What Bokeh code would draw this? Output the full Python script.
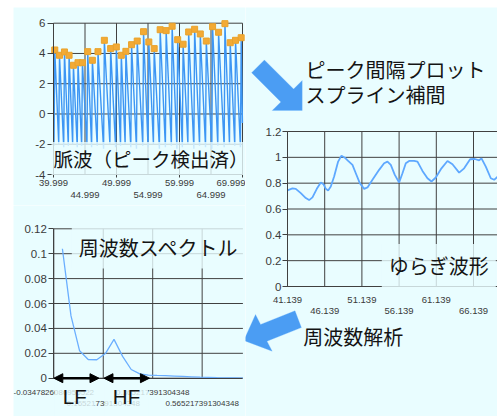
from bokeh.plotting import figure
from bokeh.models import (FixedTicker, LinearAxis, Label, Arrow, NormalHead,
                          PolyAnnotation, Range1d, Spacer)
from bokeh.layouts import row, column
from bokeh.embed import file_html
from bokeh.resources import INLINE

BG = "#e9fdff"
GRID = "#404040"
TICK_COLOR = "#3a3a3a"
NUM_FONT = "Liberation Sans"
JP_FONT = "Noto Sans CJK JP"

# ---------------- chart 1 : pulse wave with detected peaks ----------------
peak_times = [40.20, 40.95, 41.74, 42.47, 43.16, 43.89, 44.59, 45.43, 46.17, 47.06,
              48.07, 49.07, 49.97, 50.76, 51.49, 52.39, 53.29, 54.29, 55.13, 55.98,
              56.93, 57.88, 58.83, 59.71, 60.57, 61.45, 62.40, 63.30, 64.25, 65.25,
              66.20, 67.21, 68.05, 68.89, 69.79]
peak_values = [4.23, 3.88, 4.10, 3.88, 3.22, 3.39, 3.39, 4.12, 3.55, 4.12,
               4.87, 4.32, 4.43, 3.88, 4.14, 4.58, 4.82, 5.44, 4.76, 4.32,
               5.57, 5.51, 5.80, 4.91, 4.61, 5.42, 5.60, 5.29, 4.82, 5.77,
               5.40, 5.97, 4.71, 4.87, 5.04]
trough_times = [40.08, 40.83, 41.62, 42.35, 43.04, 43.77, 44.47, 45.31, 46.05, 46.94,
                47.95, 48.95, 49.85, 50.64, 51.37, 52.27, 53.17, 54.17, 55.01, 55.86,
                56.81, 57.76, 58.71, 59.59, 60.45, 61.33, 62.28, 63.18, 64.13, 65.13,
                66.08, 67.09, 67.93, 68.77, 69.67, 69.99]
trough_values = [-2.1, -2.0, -2.2, -2.1, -2.0, -2.2, -2.1, -2.0, -2.2, -2.1,
                 -2.3, -2.0, -2.2, -2.1, -2.0, -2.2, -2.3, -2.1, -2.2, -2.0,
                 -2.3, -2.2, -2.1, -2.3, -2.2, -2.0, -2.3, -2.1, -2.2, -2.3,
                 -2.1, -2.2, -2.0, -2.1, -2.2, -0.6]
pulse_x_row1 = [39.999, 49.999, 59.999, 69.999]
pulse_x_row2 = [44.999, 54.999, 64.999]
pulse_y_ticks = [-4, -2, 0, 2, 4, 6]
pulse_y_labels = ["-4", "-2", "0", "2", "4", "6"]

# ---------------- chart 2 : interpolated peak-interval series ----------------
rri_times = [41.139, 41.807, 42.255, 42.927, 43.599, 44.046, 44.495, 45.077, 45.615, 45.974,
             46.287, 46.600, 46.959, 47.407, 47.944, 48.393, 48.841, 49.288, 49.871, 50.319,
             50.857, 51.439, 51.888, 52.560, 53.455, 54.127, 54.576, 55.023, 55.561, 56.143,
             56.592, 57.040, 57.487, 58.159, 58.608, 59.280, 59.952, 60.490, 61.072, 61.834,
             62.640, 63.312, 64.208, 64.880, 65.686, 66.314, 66.896, 67.210, 67.792, 68.464,
             68.912, 69.405]
rri_values = [0.744, 0.759, 0.756, 0.723, 0.685, 0.669, 0.690, 0.756, 0.805, 0.792,
              0.756, 0.744, 0.774, 0.851, 0.967, 1.013, 0.997, 0.972, 0.941, 0.877,
              0.800, 0.756, 0.767, 0.826, 0.903, 0.954, 0.967, 0.941, 0.864, 0.805,
              0.877, 0.954, 0.972, 0.972, 0.967, 0.895, 0.838, 0.813, 0.844, 0.915,
              0.972, 0.946, 0.882, 0.915, 0.985, 0.987, 0.977, 0.992, 0.928, 0.838,
              0.826, 0.851]
rri_x_row1 = [41.139, 51.139, 61.139, 71.139]
rri_x_row2 = [46.139, 56.139, 66.139]
rri_y_ticks = [0, 0.2, 0.4, 0.6, 0.8, 1.0, 1.2]
rri_y_labels = ["0", "0.2", "0.4", "0.6", "0.8", "1", "1.2"]

# ---------------- chart 3 : frequency spectrum ----------------
freq = [0.0, 0.0348, 0.0696, 0.1043, 0.1391, 0.1739, 0.2087, 0.2435, 0.2783, 0.3130,
        0.3478, 0.3826, 0.4174, 0.4522, 0.4870, 0.5217, 0.5565, 0.5913, 0.6261, 0.6609,
        0.6957, 0.7304]
power = [0.104, 0.050, 0.022, 0.0150, 0.0148, 0.0198, 0.0312, 0.0175, 0.0070, 0.0035,
         0.0025, 0.0022, 0.0020, 0.0017, 0.0014, 0.0011, 0.0008, 0.0006, 0.0004, 0.0003,
         0.0002, 0.0001]
spec_x_row1 = [-0.0347826086956522, 0.365217391304348]
spec_x_row2 = [0.165217391304348, 0.565217391304348]
spec_x_labels = ["-0.0347826086956522", "0.165217391304348",
                 "0.365217391304348", "0.565217391304348"]
spec_x_visible_end = 0.73
spec_y_ticks = [0, 0.02, 0.04, 0.06, 0.08, 0.1, 0.12]
spec_y_labels = ["0", "0.02", "0.04", "0.06", "0.08", "0.1", "0.12"]
lf_band = [-0.0347826086956522, 0.148]
hf_band = [0.168, 0.352]


def panel(w, h, box, xr, yr):
    """Figure whose frame fills the whole canvas; the chart's data box sits at `box`
    (left, right, top, bottom in pixels from the figure's top-left corner)."""
    l, r, t, b = box
    sx = (r - l) / (xr[1] - xr[0])
    sy = (b - t) / (yr[1] - yr[0])
    p = figure(width=w, height=h,
               x_range=Range1d(xr[0] - l / sx, xr[1] + (w - r) / sx),
               y_range=Range1d(yr[0] - (h - b) / sy, yr[1] + t / sy),
               min_border=0, x_axis_location=None, y_axis_location=None,
               output_backend="svg", toolbar_location=None)
    p.background_fill_color = BG
    p.border_fill_color = BG
    p.outline_line_color = None
    p.grid.visible = False
    return p


def axis(p, side, ticks, labels, loc, bounds, font_size, tick_out, standoff, line=True):
    ax = LinearAxis(ticker=FixedTicker(ticks=ticks),
                    major_label_overrides=dict(zip(ticks, labels)),
                    fixed_location=loc, bounds=bounds)
    ax.major_label_text_font = NUM_FONT
    ax.major_label_text_font_size = font_size
    ax.major_label_text_color = TICK_COLOR
    ax.major_tick_in = 0
    ax.major_tick_out = tick_out
    ax.major_tick_line_color = GRID if tick_out else None
    ax.minor_tick_line_color = None
    ax.major_label_standoff = standoff
    ax.axis_line_color = GRID if line else None
    p.add_layout(ax, side)
    return ax


def grid(p, xticks, yticks, xlim, ylim):
    p.segment(x0=xticks, y0=[ylim[0]] * len(xticks), x1=xticks, y1=[ylim[1]] * len(xticks),
              line_color=GRID, line_width=1)
    p.segment(x0=[xlim[0]] * len(yticks), y0=yticks, x1=[xlim[1]] * len(yticks), y1=yticks,
              line_color=GRID, line_width=1)


def label(p, text, x, y, size="20px", font=JP_FONT, align="left", bg=False, pad=0):
    kw = {}
    if bg:
        kw = dict(background_fill_color=BG, background_fill_alpha=0.8, padding=pad)
    p.add_layout(Label(x=x, y=y, x_units="screen", y_units="screen", text=text,
                       text_font=font, text_font_size=size, text_color="#141414",
                       text_align=align, text_baseline="middle", **kw))


# ---------- figure 1 : pulse wave ----------
p1 = panel(232, 198, (40, 229, 15.7, 167), (39.999, 69.999), (-4, 6))
grid(p1, sorted(pulse_x_row1 + pulse_x_row2), pulse_y_ticks, (39.999, 69.999), (-4, 6))
wave_x, wave_y = [], []
for i in range(len(peak_times)):
    wave_x += [trough_times[i], peak_times[i]]
    wave_y += [trough_values[i], peak_values[i]]
wave_x.append(trough_times[-1])
wave_y.append(trough_values[-1])
p1.line(wave_x, wave_y, line_color="#3d96f4", line_width=1.4)
p1.scatter(peak_times, peak_values, marker="square", size=6,
           fill_color="#f2aa35", line_color="#eaa32c")
axis(p1, "left", pulse_y_ticks, pulse_y_labels, 39.999, (-4, 6), "11.5px", 6, 2)
axis(p1, "below", pulse_x_row1, [f"{t:.3f}" for t in pulse_x_row1], -4, (39.999, 69.999),
     "9.5px", 3, 2)
axis(p1, "below", pulse_x_row2, [f"{t:.3f}" for t in pulse_x_row2], -4, (39.999, 69.999),
     "9.5px", 0, 17, line=False)
label(p1, "脈波（ピーク検出済）", 38, 47, size="19.5px", bg=True, pad=2)

# ---------- figure 3 : spectrum ----------
p3 = panel(232, 211, (40.3, 238.1, 23.3, 172.7), (-0.0347826086956522, 0.765217391304348),
           (0, 0.12))
all_spec = sorted(spec_x_row1 + spec_x_row2)
lab_map = dict(zip(all_spec, spec_x_labels))
grid(p3, all_spec, spec_y_ticks, (all_spec[0], spec_x_visible_end), (0, 0.12))
p3.line(freq, power, line_color="#6aaeff", line_width=1.3)
axis(p3, "left", spec_y_ticks, spec_y_labels, all_spec[0], (0, 0.12), "11.5px", 5, 2)
axis(p3, "below", spec_x_row1, [lab_map[t] for t in spec_x_row1], 0,
     (all_spec[0], spec_x_visible_end), "8px", 0, 12)
axis(p3, "below", spec_x_row2, [lab_map[t] for t in spec_x_row2], 0,
     (all_spec[0], spec_x_visible_end), "8px", 0, 23, line=False)
label(p3, "周波数スペクトル", 58.3, 169.5, bg=True, pad=7)
label(p3, "LF", 61.2, 20, size="20.5px", font=NUM_FONT, align="center", bg=True, pad=8)
label(p3, "HF", 113, 20, size="20.5px", font=NUM_FONT, align="center", bg=True, pad=8)
for band in (lf_band, hf_band):
    p3.add_layout(Arrow(x_start=band[0], y_start=0, x_end=band[1], y_end=0,
                        line_color="#000000", line_width=2.5,
                        start=NormalHead(size=9, fill_color="#000000", line_color="#000000"),
                        end=NormalHead(size=9, fill_color="#000000", line_color="#000000")))

# ---------- figure 2 : interval series ----------
p2 = panel(252, 409, (42, 265.2, 124, 279), (41.139, 71.139), (0, 1.2))
grid(p2, sorted(rri_x_row1 + rri_x_row2), rri_y_ticks, (41.139, 71.139), (0, 1.2))
p2.line(rri_times, rri_values, line_color="#5ea8ff", line_width=1.8)
axis(p2, "left", rri_y_ticks, rri_y_labels, 41.139, (0, 1.2), "11.5px", 5, 1)
axis(p2, "below", rri_x_row1, [f"{t:.3f}" for t in rri_x_row1], 0, (41.139, 71.139),
     "9.5px", 0, 10)
axis(p2, "below", rri_x_row2, [f"{t:.3f}" for t in rri_x_row2], 0, (41.139, 71.139),
     "9.5px", 0, 21, line=False)
label(p2, "ピーク間隔プロット", 60, 347)
label(p2, "スプライン補間", 60, 322)
label(p2, "ゆらぎ波形", 136.3, 151, bg=True, pad=7)
label(p2, "周波数解析", 57.7, 80)

ARROW_FILL = "#4b9df3"
p2.add_layout(PolyAnnotation(
    xs=[18.9, 48.1, 56.7, 56.7, 26.7, 35.3, 6.1],
    ys=[356.6, 327.4, 336, 306, 306, 314.6, 343.8],
    xs_units="screen", ys_units="screen",
    fill_color=ARROW_FILL, fill_alpha=1, line_color="#75b8ff", line_width=1))
p2.add_layout(PolyAnnotation(
    xs=[-1.7, 10, 15.1, 49.5, 55.9, 21.5, 26.7],
    ys=[76, 102, 92.1, 105.7, 88.9, 75.3, 65.3],
    xs_units="screen", ys_units="screen",
    fill_color=ARROW_FILL, fill_alpha=1, line_color="#75b8ff", line_width=1))

layout = column(Spacer(width=497, height=7),
                row(Spacer(width=13, height=409), column(p1, p3), p2))
open("out.html", "w").write(file_html(layout, INLINE))
